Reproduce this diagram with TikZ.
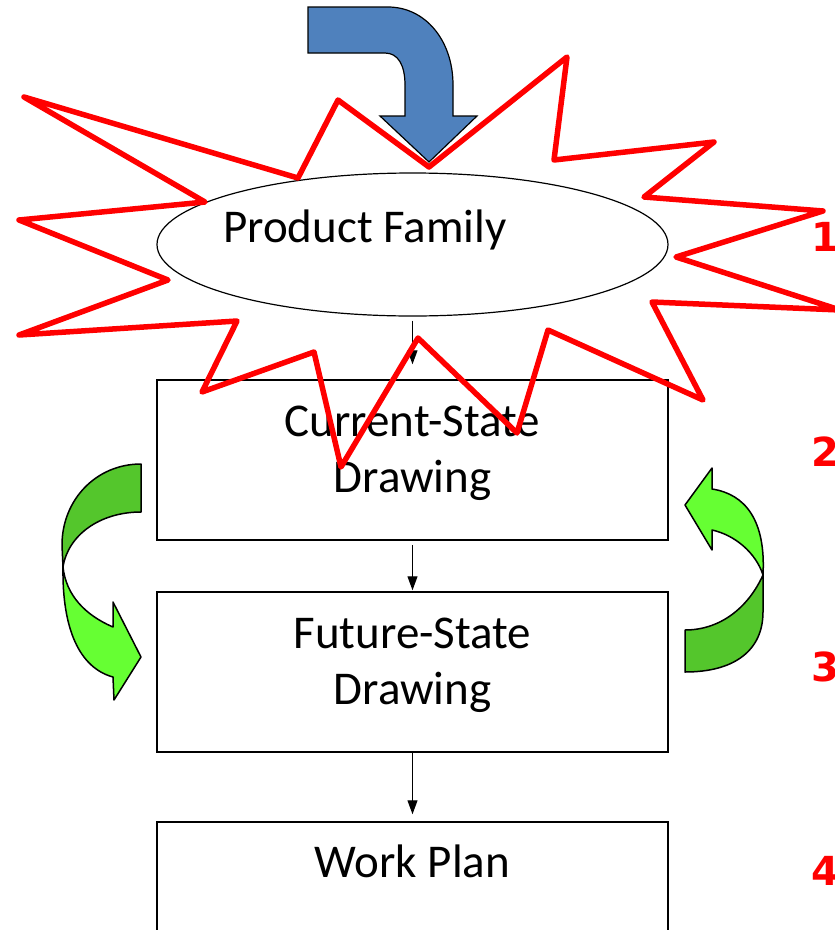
\documentclass[tikz,border=0pt]{standalone}
\usepackage{fontspec}
\setmainfont{Carlito}
\newfontfamily\stepfont{DejaVu Sans}
\usetikzlibrary{arrows.meta, shapes.geometric}

\definecolor{starred}{RGB}{255,0,0}
\definecolor{bendblue}{RGB}{79,129,189}
\definecolor{loopdark}{RGB}{84,198,44}
\definecolor{looplight}{RGB}{102,255,51}

\begin{document}
\begin{tikzpicture}[x=1pt, y=-1pt,
    stage/.style={draw, line width=1.5pt, fill=white, minimum width=511pt, minimum height=160pt,
      align=center, text height=87pt, text depth=23pt, font=\fontsize{47}{56}\selectfont},
    flow/.style={-{Triangle[length=14pt,width=10pt]}, line width=1.2pt},
    loop/.style={draw=black, line width=1.5pt, line join=round},
    num/.style={text=starred, anchor=base west, inner sep=0pt, font=\stepfont\bfseries\fontsize{40}{40}\selectfont}]
      \fill[white] (0,0) rectangle (835,930);
      \useasboundingbox (0,0) rectangle (835,930);

      % Draw stages
      \node[draw, ellipse, line width=1.2pt, fill=white, minimum width=511pt, minimum height=143pt, inner sep=0pt] (fam) at (412.5,244.5) {};
      \node[anchor=base, font=\fontsize{47}{56}\selectfont] (famtext) at (365,242) {Product Family};
      \node[stage] (cur) at (412.5,460) {Current-State\\Drawing};
      \node[stage] (fut) at (412.5,672) {Future-State\\Drawing};
      \node[stage, text height=31pt, text depth=81pt] (plan) at (412.5,902) {Work Plan};

      % Draw flow
      \draw[flow, shorten <=4pt, shorten >=15pt] (fam) -- (cur);
      \draw[flow, shorten <=4pt, shorten >=1pt] (cur) -- (fut);
      \draw[flow, shorten >=7pt] (fut) -- (plan);

      % Draw loop arrows
      \filldraw[loop, fill=loopdark] (141,464) .. controls (96,464) and (62,500) .. (62,545) -- (63,567)
        .. controls (68,535) and (100,512) .. (141,512) -- cycle;
      \filldraw[loop, fill=looplight] (63,567) .. controls (62,630) and (80,668) .. (113,677) -- (114,700)
        -- (141,657) -- (113,602) -- (113,627) .. controls (85,615) and (66,595) .. (63,567) -- cycle;
      \filldraw[loop, fill=loopdark] (685,672) .. controls (735,672) and (763,650) .. (763,612) -- (763,575)
        .. controls (748,608) and (720,630) .. (685,630) -- cycle;
      \filldraw[loop, fill=looplight] (763,575) .. controls (766,520) and (745,494) .. (712,489) -- (712,468)
        -- (685,505) -- (712,550) -- (712,530) .. controls (735,535) and (756,553) .. (763,575) -- cycle;

      % Draw burst
      \draw[starred, line width=5.5pt, line join=round] (24,97) -- (205,202) -- (19,220) -- (168,280) -- (19,335) -- (237,321)
        -- (202,392) -- (314,352) -- (341,467) -- (418,338) -- (517,433) -- (548,330) -- (703,400)
        -- (652,302) -- (840,310) -- (676,257) -- (823,211) -- (644,197) -- (714,142) -- (554,160)
        -- (567,57) -- (429,167) -- (338,100) -- (298,178) -- cycle;

      % Draw bent arrow
      \filldraw[fill=bendblue, draw=black, line width=1.2pt] (308,7) -- (388,7) .. controls (425,7) and (453,40) .. (453,85)
        -- (453,116) -- (477,116) -- (429,162) -- (380,116) -- (405,116) -- (405,85)
        .. controls (405,65) and (398,53) .. (385,53) -- (308,53) -- cycle;

      % Label steps
      \node[num] (n1) at (811,251) {1};
      \node[num] (n2) at (811,466) {2};
      \node[num] (n3) at (811,681) {3};
      \node[num] (n4) at (811,885) {4};
\end{tikzpicture}
\end{document}
